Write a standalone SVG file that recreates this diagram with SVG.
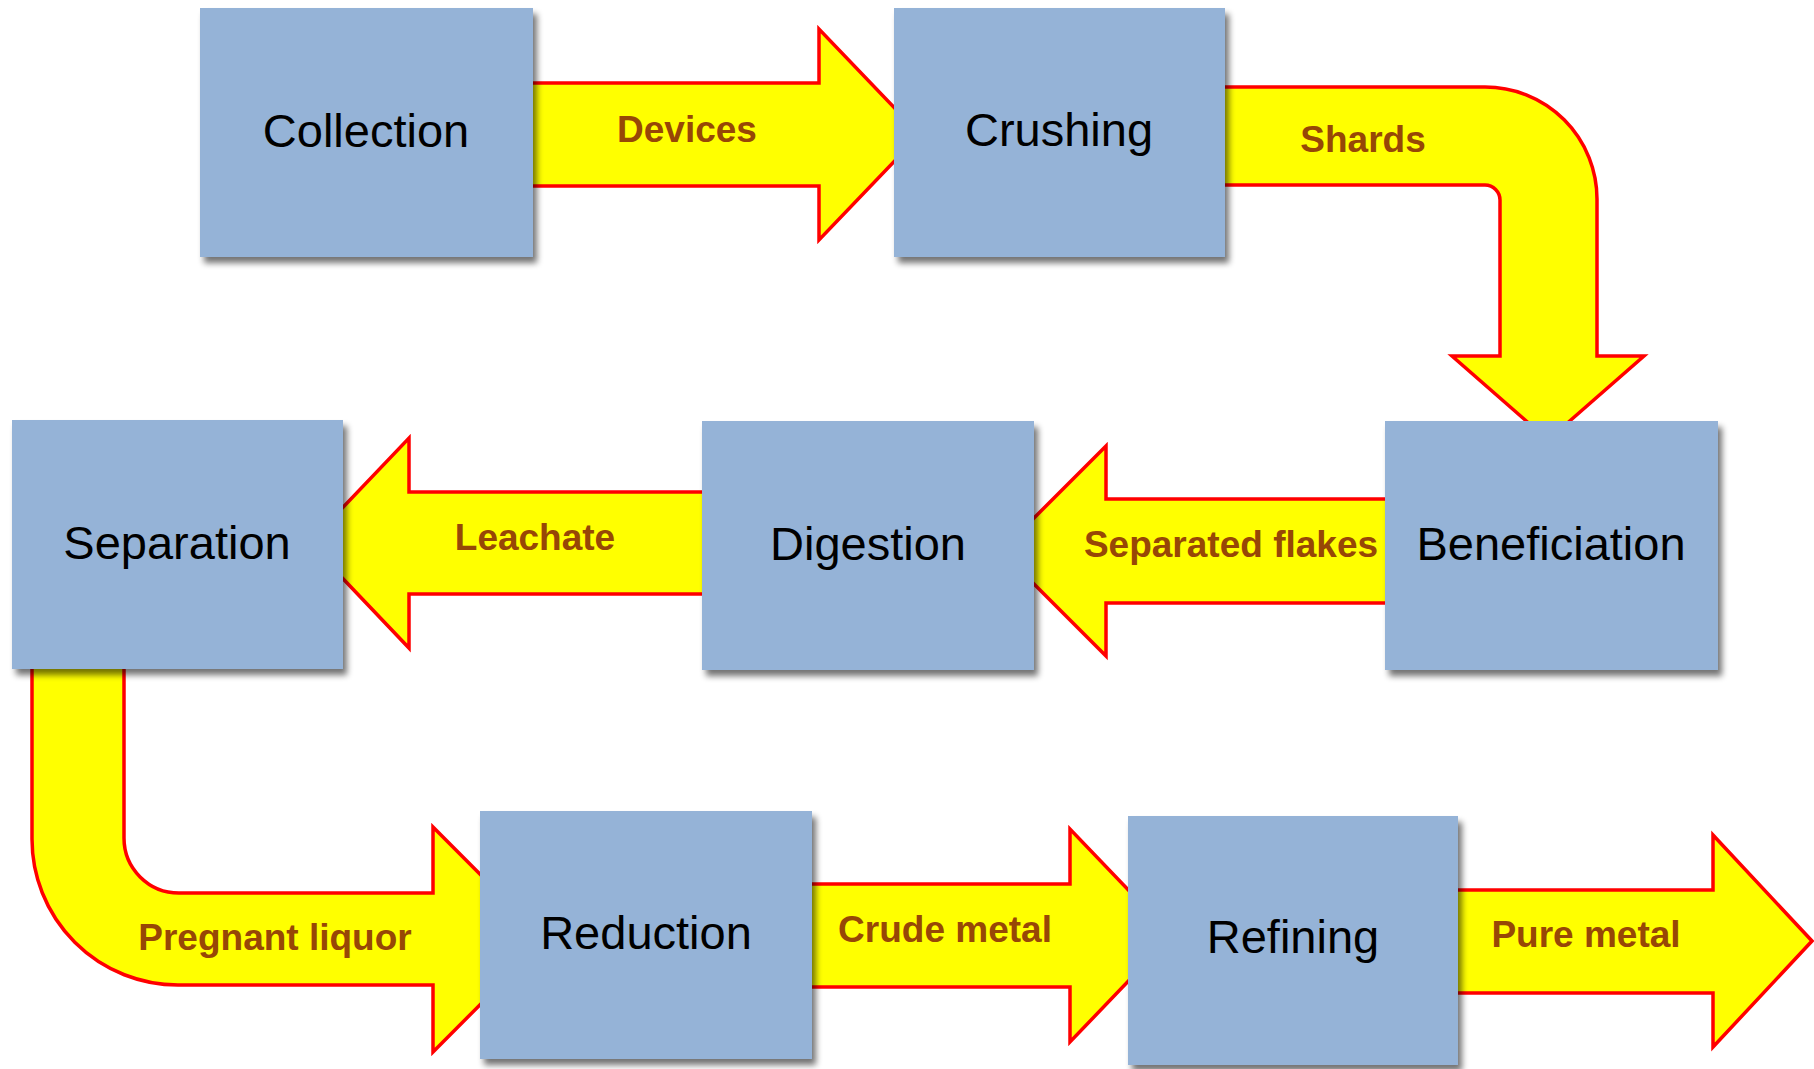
<svg xmlns="http://www.w3.org/2000/svg" width="1814" height="1069" viewBox="0 0 1814 1069">
<defs>
<filter id="sh" x="-10%" y="-10%" width="125%" height="125%">
<feGaussianBlur in="SourceAlpha" stdDeviation="3"/>
<feOffset dx="4" dy="6" result="o"/>
<feComponentTransfer><feFuncA type="linear" slope="0.55"/></feComponentTransfer>
<feMerge><feMergeNode/><feMergeNode in="SourceGraphic"/></feMerge>
</filter>
</defs>
<style>
.arrow{fill:#FFFF00;stroke:#FF0000;stroke-width:3.5;stroke-linejoin:miter}
.box{fill:#95B3D7;filter:url(#sh)}
.nt{font-family:"Liberation Sans",Arial,sans-serif;font-size:47px;fill:#000;text-anchor:middle}
.lt{font-family:"Liberation Sans",Arial,sans-serif;font-size:37px;font-weight:bold;fill:#974706;text-anchor:middle}
</style>
<rect width="1814" height="1069" fill="#fff"/>
<g id="connectors">
<path class="arrow" d="M520,83 L819,83 L819,29 L920,134.5 L819,240 L819,186 L520,186 Z"/>
<path class="arrow" d="M1215,87 L1485,87 A112,112 0 0 1 1597,199 L1597,356 L1644,356 L1548,440 L1452,356 L1500,356 L1500,200 A15,15 0 0 0 1485,185 L1215,185 Z"/>
<path class="arrow" d="M1395,499 L1106,499 L1106,446 L1001,551 L1106,656 L1106,603 L1395,603 Z"/>
<path class="arrow" d="M715,492 L409,492 L409,438 L309,543 L409,648 L409,594 L715,594 Z"/>
<path class="arrow" d="M32,660 L32,839 A146,146 0 0 0 178,985 L433,985 L433,1052 L545,939.5 L433,827 L433,893 L179,893 A55,55 0 0 1 124,838 L124,660 Z"/>
<path class="arrow" d="M800,884 L1070,884 L1070,829 L1172,935.5 L1070,1042 L1070,987 L800,987 Z"/>
<path class="arrow" d="M1445,890 L1713,890 L1713,835 L1812,941 L1713,1047 L1713,993 L1445,993 Z"/>
<text class="lt" x="687" y="142">Devices</text>
<text class="lt" x="1363" y="152">Shards</text>
<text class="lt" x="1231" y="557">Separated flakes</text>
<text class="lt" x="535" y="550">Leachate</text>
<text class="lt" x="275" y="950">Pregnant liquor</text>
<text class="lt" x="945" y="942">Crude metal</text>
<text class="lt" x="1586" y="947">Pure metal</text>
</g>
<g id="collection"><rect class="box" x="200" y="8" width="333" height="249"/><text class="nt" x="366" y="147">Collection</text></g>
<g id="crushing"><rect class="box" x="894" y="8" width="331" height="249"/><text class="nt" x="1059" y="146">Crushing</text></g>
<g id="separation"><rect class="box" x="12" y="420" width="331" height="249"/><text class="nt" x="177" y="559">Separation</text></g>
<g id="digestion"><rect class="box" x="702" y="421" width="332" height="249"/><text class="nt" x="868" y="560">Digestion</text></g>
<g id="beneficiation"><rect class="box" x="1385" y="421" width="333" height="249"/><text class="nt" x="1551" y="560">Beneficiation</text></g>
<g id="reduction"><rect class="box" x="480" y="811" width="332" height="248"/><text class="nt" x="646" y="949">Reduction</text></g>
<g id="refining"><rect class="box" x="1128" y="816" width="330" height="249"/><text class="nt" x="1293" y="953">Refining</text></g>
</svg>
